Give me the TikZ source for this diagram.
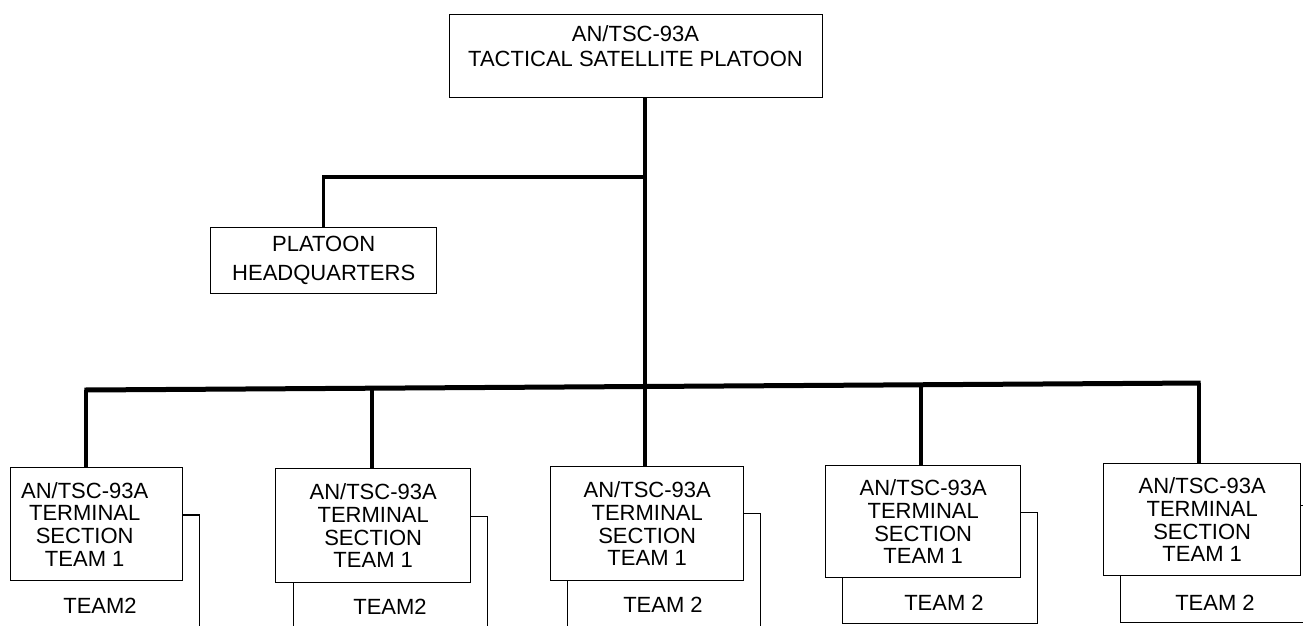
\documentclass[tikz,border=0pt]{standalone}
\usepackage{fontspec}
\setmainfont{Liberation Sans}
\begin{document}
\begin{tikzpicture}[x=1pt,y=-1pt,
  box/.style={draw, line width=1.4pt, fill=white, inner sep=0pt, anchor=north west},
  boxline/.style={line width=1.4pt},
  lbl/.style={font=\fontsize{22}{22.7}\selectfont, align=center, inner sep=0pt},
  stem/.style={line width=3.2pt},
  barline/.style={line width=5pt, line cap=butt},
]
\useasboundingbox (0,0) rectangle (1303,625);
\clip (0,0) rectangle (1303,625);

% platoon box
\node[box, minimum width=373pt, minimum height=83pt] (top) at (449,14) {};
\node[lbl, font=\fontsize{22}{25}\selectfont, anchor=north] (topText) at (635.5,25)
  {AN/TSC-93A\\TACTICAL SATELLITE PLATOON};

% headquarters
\node[box, lbl, font=\fontsize{22}{29}\selectfont, minimum width=226pt, minimum height=66pt] (hq)
  at (210,227) {PLATOON\\HEADQUARTERS};

% second teams (behind the first teams)
\node[box, draw=none, minimum width=203pt, minimum height=125pt] (ua) at (-5,515) {};
\node[box, minimum width=194pt, minimum height=125pt] (ub) at (293,516) {};
\node[box, minimum width=193pt, minimum height=125pt] (uc) at (567,513) {};
\node[box, minimum width=195pt, minimum height=111pt] (ud) at (842,512) {};
\node[box, minimum width=195pt, minimum height=117pt] (ue) at (1120,505) {};
\node[lbl] (uaText) at (100,605.5) {TEAM2};
\node[lbl] (ubText) at (390,607) {TEAM2};
\node[lbl] (ucText) at (663,605) {TEAM 2};
\node[lbl] (udText) at (944,603) {TEAM 2};
\node[lbl] (ueText) at (1215,603) {TEAM 2};

% terminal section first teams
\node[box, minimum width=172pt, minimum height=113pt,
  label={[lbl, xshift=-12pt]center:{AN/TSC-93A\\TERMINAL\\SECTION\\TEAM 1}}] (ta) at (10,467) {};
\node[box, lbl, minimum width=195pt, minimum height=114pt] (tb) at (275,468)
  {AN/TSC-93A\\TERMINAL\\SECTION\\TEAM 1};
\node[box, lbl, minimum width=193pt, minimum height=114pt] (tc) at (550,466)
  {AN/TSC-93A\\TERMINAL\\SECTION\\TEAM 1};
\node[box, lbl, minimum width=195pt, minimum height=112pt] (td) at (825,465)
  {AN/TSC-93A\\TERMINAL\\SECTION\\TEAM 1};
\node[box, lbl, minimum width=197pt, minimum height=112pt] (te) at (1103,463)
  {AN/TSC-93A\\TERMINAL\\SECTION\\TEAM 1};

% visible outline of the first second-team box
\draw[boxline] (ta.east |- ua.north) -- (ua.north east) -- (ua.south east);

% junctions on the distribution bar
\coordinate (j1) at (86,390);
\coordinate (j2) at (372,388.2);
\coordinate (j3) at (645,386.5);
\coordinate (j4) at (921,384.7);
\coordinate (j5) at (1199,383);
\coordinate (hqj) at (645,177);

% connectors
\draw[stem] (top.south -| j3) -- (j3);
\draw[stem] (hqj) -| (hq.north);
\draw[barline] ([xshift=-1.6pt]j1) -- ([xshift=1.6pt]j5);
\draw[stem] (j1) -- (j1 |- ta.north);
\draw[stem] (j2) -- (j2 |- tb.north);
\draw[stem] (j3) -- (j3 |- tc.north);
\draw[stem] (j4) -- (j4 |- td.north);
\draw[stem] (j5) -- (j5 |- te.north);
\end{tikzpicture}
\end{document}
